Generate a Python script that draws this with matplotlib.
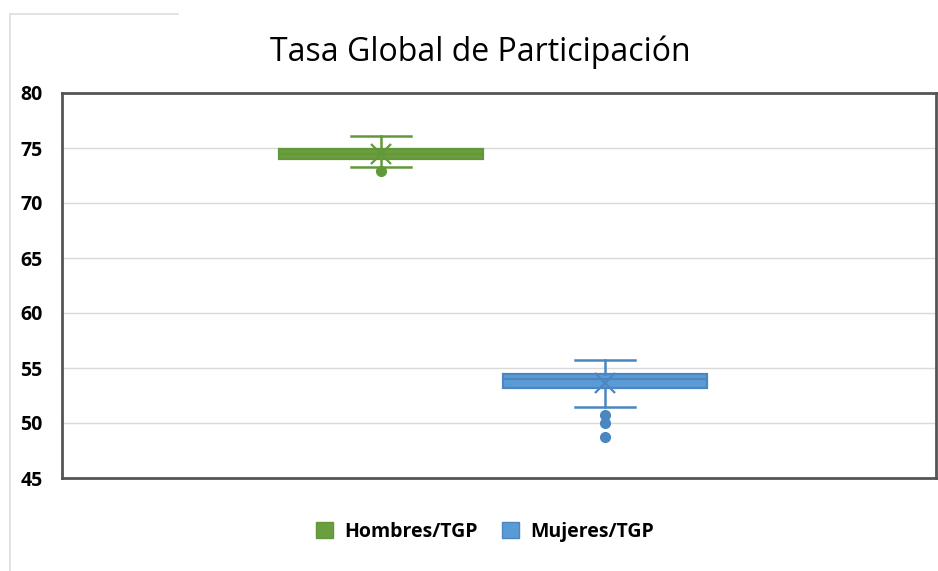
import matplotlib.pyplot as plt
from matplotlib.lines import Line2D
from matplotlib.patches import Patch

# Datos (estadísticos)
series = ['Hombres/TGP', 'Mujeres/TGP']
q1 = [74.0, 53.2]
mediana = [74.5, 54.0]
q3 = [74.9, 54.5]
bigote_inf = [73.3, 51.5]
bigote_sup = [76.1, 55.7]
media = [74.5, 53.6]
atipicos = [[72.95], [50.7, 50.0, 48.7]]

relleno = ['#6a9e3e', '#5b9bd5']
borde = ['#62983a', '#4a86c0']

plt.rcParams['font.family'] = ['Open Sans', 'DejaVu Sans']

fig = plt.figure(figsize=(9.38, 5.71), dpi=100)
ax = fig.add_axes([62 / 938, 1 - 478 / 571, 874 / 938, 385 / 571])

stats = []
for i in range(len(series)):
    stats.append({
        'q1': q1[i], 'med': mediana[i], 'q3': q3[i],
        'whislo': bigote_inf[i], 'whishi': bigote_sup[i],
        'mean': media[i], 'fliers': atipicos[i], 'label': series[i],
    })

for i, st in enumerate(stats):
    c = borde[i]
    ax.bxp([st], positions=[i + 1], widths=0.91, capwidths=0.27,
           patch_artist=True, showmeans=True,
           boxprops=dict(facecolor=relleno[i], edgecolor=c, linewidth=1.6),
           medianprops=dict(color=c, linewidth=1.6),
           whiskerprops=dict(color=c, linewidth=1.8),
           capprops=dict(color=c, linewidth=1.8),
           meanprops=dict(marker='x', markeredgecolor=c, markersize=14,
                          markeredgewidth=1.6),
           flierprops=dict(marker='o', markerfacecolor=c, markeredgecolor=c,
                           markersize=7))

ax.set_xlim(-0.426, 3.48)
ax.set_ylim(45, 80)
ax.set_yticks(range(45, 81, 5))
ax.set_xticks([])
ax.yaxis.grid(True, color='#d9d9d9', linewidth=1)
ax.set_axisbelow(True)
for s in ax.spines.values():
    s.set_color('#555555')
    s.set_linewidth(2)
ax.tick_params(axis='y', length=0, pad=14, labelsize=14)
for t in ax.get_yticklabels():
    t.set_fontweight('bold')

fig.text(480 / 938, 1 - 52 / 571, 'Tasa Global de Participación',
         ha='center', va='center', fontsize=23)

handles = [Patch(facecolor=relleno[i], edgecolor=borde[i], label=series[i])
           for i in range(len(series))]
fig.legend(handles=handles, loc='center', bbox_to_anchor=(485 / 938, 1 - 532 / 571),
           ncol=2, frameon=False, prop={'weight': 'bold', 'size': 14},
           handlelength=0.9, handleheight=0.9, handletextpad=0.6,
           columnspacing=1.2)

# Marco del gráfico (parcialmente visible)
fig.add_artist(Line2D([10 / 938, 178 / 938], [1 - 14 / 571, 1 - 14 / 571],
                      color='#dddddd', linewidth=1.2))
fig.add_artist(Line2D([10 / 938, 10 / 938], [1 - 14 / 571, 0],
                      color='#dddddd', linewidth=1.2))

fig.savefig('out.png', dpi=100)
